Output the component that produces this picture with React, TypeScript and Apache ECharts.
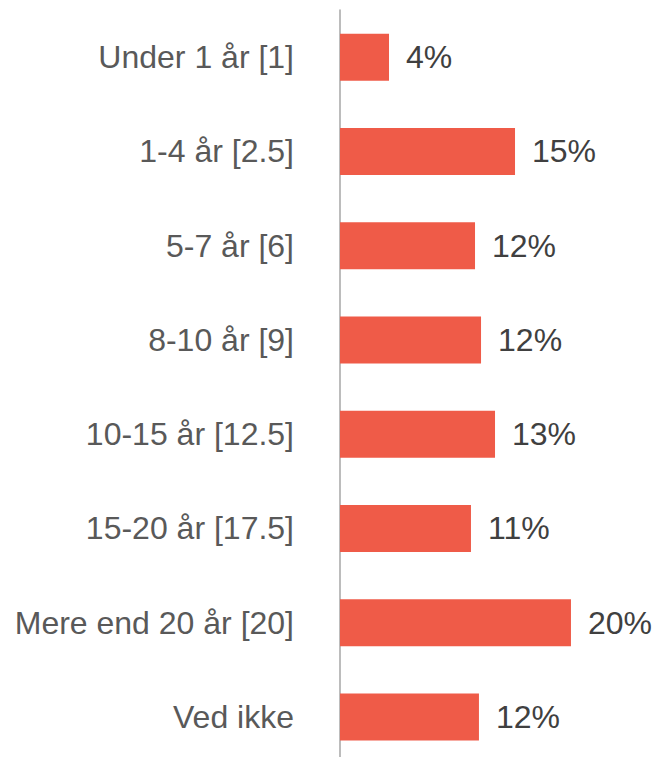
import React, { useEffect, useRef } from "react";
import * as echarts from "echarts";

const categories = [
  "Under 1 år [1]",
  "1-4 år [2.5]",
  "5-7 år [6]",
  "8-10 år [9]",
  "10-15 år [12.5]",
  "15-20 år [17.5]",
  "Mere end 20 år [20]",
  "Ved ikke",
];
const shares = [4.24, 15.14, 11.68, 12.2, 13.41, 11.33, 19.98, 12.02];

export default function App() {
  const ref = useRef<HTMLDivElement>(null);
  useEffect(() => {
    document.body.style.margin = "0";
    const chart = echarts.init(ref.current!, null, { renderer: "svg" });
    chart.setOption({
      animation: false,
      backgroundColor: "#ffffff",
      grid: { left: 340, top: 10, width: 289, height: 754, containLabel: false },
      xAxis: {
        type: "value",
        min: 0,
        max: 25,
        show: false,
        splitLine: { show: false },
      },
      yAxis: {
        type: "category",
        inverse: true,
        data: categories,
        axisLine: { show: true, lineStyle: { color: "#A6A6A6", width: 1.5 } },
        axisTick: { show: false },
        axisLabel: {
          margin: 46,
          fontSize: 32,
          color: "#595959",
          fontFamily: "Liberation Sans, Arial, sans-serif",
        },
      },
      series: [
        {
          type: "bar",
          data: shares,
          barWidth: 47,
          itemStyle: { color: "#EF5B48" },
          label: {
            show: true,
            position: "right",
            distance: 17,
            fontSize: 32,
            color: "#404040",
            fontFamily: "Liberation Sans, Arial, sans-serif",
            formatter: (p: any) => Math.round(p.value) + "%",
          },
        },
      ],
    });
    return () => chart.dispose();
  }, []);
  return (
    <div
      style={{
        position: "absolute",
        left: 0,
        top: 0,
        width: 656,
        height: 757,
        overflow: "hidden",
      }}
    >
      <div ref={ref} style={{ width: 656, height: 772 }} />
    </div>
  );
}
